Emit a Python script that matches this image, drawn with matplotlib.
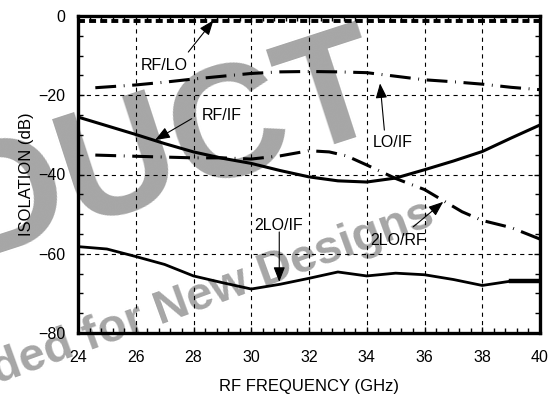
import matplotlib
matplotlib.use('Agg')
import matplotlib.pyplot as plt
from matplotlib.ticker import MultipleLocator

plt.rcParams['font.family'] = ['Liberation Sans', 'DejaVu Sans']
plt.rcParams['lines.scale_dashes'] = False

# ---- data ----
rf_lo_f = [24, 40]
rf_lo = [-1.2, -1.2]

lo_if_f = [24.6, 26, 27, 28, 29, 30, 31, 32, 33, 34, 35, 36, 37, 38, 39, 40]
lo_if = [-18.1, -17.4, -16.7, -15.9, -15.2, -14.5, -14.1, -14.0, -14.1, -14.3, -15.2, -16.1, -16.6, -17.2, -18.0, -18.6]

rf_if_f = [24, 25, 26, 27, 28, 29, 30, 31, 32, 33, 34, 35, 36, 37, 38, 39, 40]
rf_if = [-25.5, -27.7, -29.9, -32.2, -34.3, -35.9, -37.2, -39.0, -40.6, -41.6, -41.9, -40.9, -38.8, -36.6, -34.2, -30.8, -27.5]

lo2_rf_f = [24.6, 26, 28, 29, 30, 31, 32, 32.7, 33.3, 34, 35, 36, 36.65, 37.3, 38, 39, 40]
lo2_rf = [-35.1, -35.4, -35.8, -35.8, -36.1, -35.3, -34.0, -34.3, -35.3, -37.6, -41.0, -43.8, -46.6, -49.4, -51.6, -53.4, -56.3]

lo2_if_f = [24, 25, 26, 27, 28, 29, 30, 31, 32, 33, 34, 35, 36, 37, 38, 39, 40]
lo2_if = [-58.2, -58.8, -60.7, -62.7, -65.6, -67.3, -68.9, -67.7, -66.2, -64.6, -65.6, -64.9, -65.3, -66.5, -68.0, -66.9, -66.9]

# labels: (text, text pos, arrow tail, arrow head)
labels = ['RF/LO', 'RF/IF', 'LO/IF', '2LO/IF', '2LO/RF']
label_xy = [(26.98, -12.4), (28.98, -25.0), (34.89, -32.0), (30.96, -52.8), (35.07, -56.7)]
arrow_tail = [(27.82, -9.1), (27.94, -25.9), (34.61, -28.8), (30.97, -54.5), (35.61, -53.2)]
arrow_head = [(28.69, -1.1), (26.67, -31.3), (34.46, -17.0), (30.97, -67.1), (36.65, -46.9)]

fig = plt.figure(figsize=(5.52, 4.0), dpi=100)
ax = fig.add_axes([78/552, 1-333/400, 462/552, 317/400])
ax.set_facecolor('none')

# watermark (drawn under everything)
wm = '#a6a6a6'
fig.text(392/552, 1-122/400, 'PRODUCT', fontsize=116, fontweight='bold', color=wm,
         rotation=18, rotation_mode='anchor', ha='right', va='baseline', zorder=-5)
fig.text(437/552, 1-224/400, 'Not Recommended for New Designs', fontsize=34, fontweight='bold',
         color=wm, rotation=20, rotation_mode='anchor', ha='right', va='baseline', zorder=-5)

dashdot = (0, (15, 5.5, 0.6, 5.5))
ax.plot(rf_lo_f, rf_lo, color='k', lw=2.8, ls=(0, (5, 3)), zorder=3)
ax.plot(lo_if_f, lo_if, color='k', lw=2.2, ls=dashdot, zorder=3)
ax.plot(rf_if_f, rf_if, color='k', lw=2.2, zorder=3)
ax.plot(lo2_rf_f, lo2_rf, color='k', lw=2.2, ls=dashdot, zorder=3)
ax.plot(lo2_if_f, lo2_if, color='k', lw=2.0, zorder=3)
ax.plot(lo2_if_f[-2:], lo2_if[-2:], color='k', lw=3.2, zorder=3)

for t, p, a, b in zip(labels, label_xy, arrow_tail, arrow_head):
    ax.text(p[0], p[1], t, fontsize=11.5, ha='center', va='center', zorder=4)
    ax.annotate('', xy=b, xytext=a,
                arrowprops=dict(arrowstyle='-|>,head_length=0.9,head_width=0.35', color='k', lw=0.8,
                                shrinkA=0, shrinkB=0), zorder=4)

ax.set_xlim(24, 40)
ax.set_ylim(-80, 0)
ax.xaxis.set_major_locator(MultipleLocator(2))
ax.xaxis.set_minor_locator(MultipleLocator(0.4))
ax.yaxis.set_major_locator(MultipleLocator(20))
ax.yaxis.set_minor_locator(MultipleLocator(5))
ax.tick_params(which='both', direction='in', top=True, right=True, width=1, color='k')
ax.tick_params(which='major', length=4)
ax.tick_params(which='minor', length=3.5)
ax.tick_params(axis='x', which='major', pad=12, labelsize=11.5)
ax.tick_params(axis='y', which='major', pad=9, labelsize=11.5)
ax.grid(True, which='major', color='k', lw=0.8, ls=(0, (3, 3)))
for s in ax.spines.values():
    s.set_linewidth(2.4)
    s.set_zorder(5)

ax.set_xlabel('RF FREQUENCY (GHz)', fontsize=12, labelpad=10)
ax.set_ylabel('ISOLATION (dB)', fontsize=12, labelpad=3)

fig.savefig('out.png', dpi=100)
